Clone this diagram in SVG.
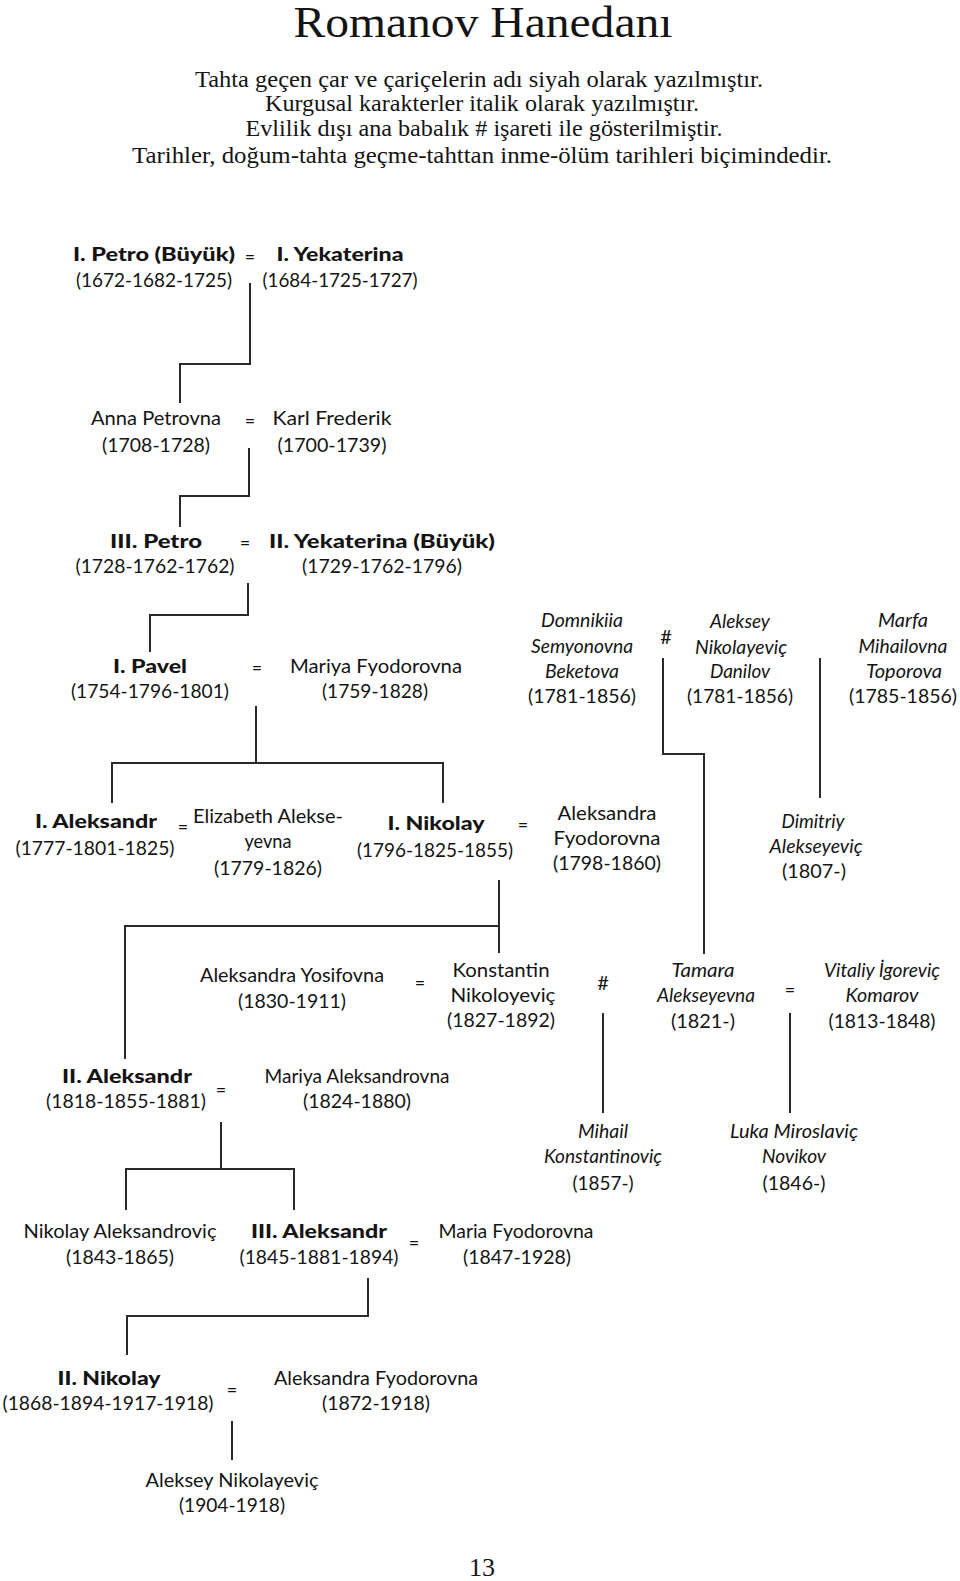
<svg xmlns="http://www.w3.org/2000/svg" width="960" height="1581" viewBox="0 0 960 1581">
<style>
text{font-family:Lato,"Open Sans","DejaVu Sans",sans-serif;font-size:19px;fill:#141414;text-anchor:middle}
.b{font-weight:900}
.i{font-style:italic}
.t{font-family:"Liberation Serif","DejaVu Serif",serif;font-size:45px}
.s{font-family:"Liberation Serif","DejaVu Serif",serif;font-size:23px}
.pg{font-family:"Liberation Serif","DejaVu Serif",serif;font-size:26px}
.eq{font-size:18px}
.h{font-size:20px}
.c path{fill:none;stroke:#2a2a2a;stroke-width:2}
</style>
<rect width="960" height="1581" fill="#fff"/>
<g id="title">
<text class="t" x="483" y="37" textLength="379" lengthAdjust="spacingAndGlyphs">Romanov Hanedanı</text>
<text class="s" x="479" y="87" textLength="568" lengthAdjust="spacingAndGlyphs">Tahta geçen çar ve çariçelerin adı siyah olarak yazılmıştır.</text>
<text class="s" x="482" y="111" textLength="434" lengthAdjust="spacingAndGlyphs">Kurgusal karakterler italik olarak yazılmıştır.</text>
<text class="s" x="484" y="136" textLength="477" lengthAdjust="spacingAndGlyphs">Evlilik dışı ana babalık # işareti ile gösterilmiştir.</text>
<text class="s" x="482" y="163" textLength="700" lengthAdjust="spacingAndGlyphs">Tarihler, doğum-tahta geçme-tahttan inme-ölüm tarihleri biçimindedir.</text>
</g>
<g class="c" id="connectors">
<path d="M250 283V364H180V403"/>
<path d="M249 448V496H180V527"/>
<path d="M248 583V615H150V652"/>
<path d="M256 706V763M112 803V763H443V803"/>
<path d="M663 658V754H704V954"/>
<path d="M820 658V798"/>
<path d="M499 880V953M125 1059V926H499"/>
<path d="M603 1013V1113"/>
<path d="M790 1013V1113"/>
<path d="M221 1122V1169M126 1210V1169H294V1210"/>
<path d="M368 1278V1316H127V1355"/>
<path d="M232 1421V1460"/>
</g>
<g id="marks">
<text class="eq" x="250" y="263">=</text>
<text class="eq" x="250" y="427">=</text>
<text class="eq" x="245" y="549">=</text>
<text class="eq" x="257" y="674">=</text>
<text class="h" x="666" y="644">#</text>
<text class="eq" x="183" y="833">=</text>
<text class="eq" x="523" y="831">=</text>
<text class="eq" x="420" y="989">=</text>
<text class="h" x="603" y="990">#</text>
<text class="eq" x="790" y="996">=</text>
<text class="eq" x="221" y="1096">=</text>
<text class="eq" x="414" y="1249">=</text>
<text class="eq" x="232" y="1396">=</text>
</g>
<g id="petro1">
<text class="b" x="154" y="261" textLength="162" lengthAdjust="spacingAndGlyphs">I. Petro (Büyük)</text>
<text x="154" y="287" textLength="156" lengthAdjust="spacingAndGlyphs">(1672-1682-1725)</text>
</g>
<g id="yekaterina1">
<text class="b" x="340" y="261" textLength="127" lengthAdjust="spacingAndGlyphs">I. Yekaterina</text>
<text x="340" y="287" textLength="155" lengthAdjust="spacingAndGlyphs">(1684-1725-1727)</text>
</g>
<g id="anna">
<text x="156" y="425" textLength="130" lengthAdjust="spacingAndGlyphs">Anna Petrovna</text>
<text x="156" y="452" textLength="108" lengthAdjust="spacingAndGlyphs">(1708-1728)</text>
</g>
<g id="karl">
<text x="332" y="425" textLength="119" lengthAdjust="spacingAndGlyphs">Karl Frederik</text>
<text x="332" y="452" textLength="109" lengthAdjust="spacingAndGlyphs">(1700-1739)</text>
</g>
<g id="petro3">
<text class="b" x="156" y="548" textLength="92" lengthAdjust="spacingAndGlyphs">III. Petro</text>
<text x="155" y="573" textLength="159" lengthAdjust="spacingAndGlyphs">(1728-1762-1762)</text>
</g>
<g id="yekaterina2">
<text class="b" x="382" y="548" textLength="226" lengthAdjust="spacingAndGlyphs">II. Yekaterina (Büyük)</text>
<text x="382" y="573" textLength="160" lengthAdjust="spacingAndGlyphs">(1729-1762-1796)</text>
</g>
<g id="pavel">
<text class="b" x="150" y="673" textLength="74" lengthAdjust="spacingAndGlyphs">I. Pavel</text>
<text x="150" y="698" textLength="158" lengthAdjust="spacingAndGlyphs">(1754-1796-1801)</text>
</g>
<g id="mariya-f">
<text x="376" y="673" textLength="172" lengthAdjust="spacingAndGlyphs">Mariya Fyodorovna</text>
<text x="375" y="698" textLength="106" lengthAdjust="spacingAndGlyphs">(1759-1828)</text>
</g>
<g id="domnikiia">
<text class="i" x="582" y="627" textLength="82" lengthAdjust="spacingAndGlyphs">Domnikiia</text>
<text class="i" x="582" y="653" textLength="102" lengthAdjust="spacingAndGlyphs">Semyonovna</text>
<text class="i" x="582" y="678" textLength="74" lengthAdjust="spacingAndGlyphs">Beketova</text>
<text x="582" y="703" textLength="108" lengthAdjust="spacingAndGlyphs">(1781-1856)</text>
</g>
<g id="aleksey-danilov">
<text class="i" x="740" y="628" textLength="60" lengthAdjust="spacingAndGlyphs">Aleksey</text>
<text class="i" x="741" y="654" textLength="92" lengthAdjust="spacingAndGlyphs">Nikolayeviç</text>
<text class="i" x="740" y="678" textLength="60" lengthAdjust="spacingAndGlyphs">Danilov</text>
<text x="740" y="703" textLength="106" lengthAdjust="spacingAndGlyphs">(1781-1856)</text>
</g>
<g id="marfa">
<text class="i" x="903" y="627" textLength="50" lengthAdjust="spacingAndGlyphs">Marfa</text>
<text class="i" x="903" y="653" textLength="89" lengthAdjust="spacingAndGlyphs">Mihailovna</text>
<text class="i" x="904" y="678" textLength="76" lengthAdjust="spacingAndGlyphs">Toporova</text>
<text x="903" y="703" textLength="108" lengthAdjust="spacingAndGlyphs">(1785-1856)</text>
</g>
<g id="aleksandr1">
<text class="b" x="96" y="828" textLength="122" lengthAdjust="spacingAndGlyphs">I. Aleksandr</text>
<text x="95" y="855" textLength="159" lengthAdjust="spacingAndGlyphs">(1777-1801-1825)</text>
</g>
<g id="elizabeth">
<text x="268" y="823" textLength="150" lengthAdjust="spacingAndGlyphs">Elizabeth Alekse-</text>
<text x="268" y="848" textLength="47" lengthAdjust="spacingAndGlyphs">yevna</text>
<text x="268" y="875" textLength="108" lengthAdjust="spacingAndGlyphs">(1779-1826)</text>
</g>
<g id="nikolay1">
<text class="b" x="436" y="830" textLength="97" lengthAdjust="spacingAndGlyphs">I. Nikolay</text>
<text x="435" y="857" textLength="156" lengthAdjust="spacingAndGlyphs">(1796-1825-1855)</text>
</g>
<g id="aleksandra-f1">
<text x="607" y="820" textLength="99" lengthAdjust="spacingAndGlyphs">Aleksandra</text>
<text x="607" y="845" textLength="107" lengthAdjust="spacingAndGlyphs">Fyodorovna</text>
<text x="607" y="870" textLength="108" lengthAdjust="spacingAndGlyphs">(1798-1860)</text>
</g>
<g id="dimitriy">
<text class="i" x="813" y="828" textLength="63" lengthAdjust="spacingAndGlyphs">Dimitriy</text>
<text class="i" x="816" y="853" textLength="93" lengthAdjust="spacingAndGlyphs">Alekseyeviç</text>
<text x="814" y="878" textLength="64" lengthAdjust="spacingAndGlyphs">(1807-)</text>
</g>
<g id="aleksandra-y">
<text x="292" y="982" textLength="184" lengthAdjust="spacingAndGlyphs">Aleksandra Yosifovna</text>
<text x="292" y="1008" textLength="108" lengthAdjust="spacingAndGlyphs">(1830-1911)</text>
</g>
<g id="konstantin">
<text x="501" y="977" textLength="97" lengthAdjust="spacingAndGlyphs">Konstantin</text>
<text x="503" y="1002" textLength="105" lengthAdjust="spacingAndGlyphs">Nikoloyeviç</text>
<text x="501" y="1027" textLength="108" lengthAdjust="spacingAndGlyphs">(1827-1892)</text>
</g>
<g id="tamara">
<text class="i" x="703" y="977" textLength="63" lengthAdjust="spacingAndGlyphs">Tamara</text>
<text class="i" x="706" y="1002" textLength="98" lengthAdjust="spacingAndGlyphs">Alekseyevna</text>
<text x="703" y="1028" textLength="64" lengthAdjust="spacingAndGlyphs">(1821-)</text>
</g>
<g id="vitaliy">
<text class="i" x="882" y="977" textLength="116" lengthAdjust="spacingAndGlyphs">Vitaliy İgoreviç</text>
<text class="i" x="882" y="1002" textLength="73" lengthAdjust="spacingAndGlyphs">Komarov</text>
<text x="882" y="1028" textLength="107" lengthAdjust="spacingAndGlyphs">(1813-1848)</text>
</g>
<g id="aleksandr2">
<text class="b" x="127" y="1083" textLength="130" lengthAdjust="spacingAndGlyphs">II. Aleksandr</text>
<text x="126" y="1108" textLength="160" lengthAdjust="spacingAndGlyphs">(1818-1855-1881)</text>
</g>
<g id="mariya-a">
<text x="357" y="1083" textLength="185" lengthAdjust="spacingAndGlyphs">Mariya Aleksandrovna</text>
<text x="357" y="1108" textLength="108" lengthAdjust="spacingAndGlyphs">(1824-1880)</text>
</g>
<g id="mihail">
<text class="i" x="603" y="1138" textLength="50" lengthAdjust="spacingAndGlyphs">Mihail</text>
<text class="i" x="603" y="1163" textLength="118" lengthAdjust="spacingAndGlyphs">Konstantinoviç</text>
<text x="603" y="1190" textLength="61" lengthAdjust="spacingAndGlyphs">(1857-)</text>
</g>
<g id="luka">
<text class="i" x="794" y="1138" textLength="128" lengthAdjust="spacingAndGlyphs">Luka Miroslaviç</text>
<text class="i" x="794" y="1163" textLength="64" lengthAdjust="spacingAndGlyphs">Novikov</text>
<text x="794" y="1190" textLength="63" lengthAdjust="spacingAndGlyphs">(1846-)</text>
</g>
<g id="nikolay-a">
<text x="120" y="1238" textLength="193" lengthAdjust="spacingAndGlyphs">Nikolay Aleksandroviç</text>
<text x="120" y="1264" textLength="108" lengthAdjust="spacingAndGlyphs">(1843-1865)</text>
</g>
<g id="aleksandr3">
<text class="b" x="319" y="1238" textLength="136" lengthAdjust="spacingAndGlyphs">III. Aleksandr</text>
<text x="319" y="1264" textLength="159" lengthAdjust="spacingAndGlyphs">(1845-1881-1894)</text>
</g>
<g id="maria-f">
<text x="516" y="1238" textLength="155" lengthAdjust="spacingAndGlyphs">Maria Fyodorovna</text>
<text x="517" y="1264" textLength="108" lengthAdjust="spacingAndGlyphs">(1847-1928)</text>
</g>
<g id="nikolay2">
<text class="b" x="109" y="1385" textLength="103" lengthAdjust="spacingAndGlyphs">II. Nikolay</text>
<text x="108" y="1410" textLength="211" lengthAdjust="spacingAndGlyphs">(1868-1894-1917-1918)</text>
</g>
<g id="aleksandra-f2">
<text x="376" y="1385" textLength="204" lengthAdjust="spacingAndGlyphs">Aleksandra Fyodorovna</text>
<text x="376" y="1410" textLength="108" lengthAdjust="spacingAndGlyphs">(1872-1918)</text>
</g>
<g id="aleksey-n">
<text x="232" y="1487" textLength="173" lengthAdjust="spacingAndGlyphs">Aleksey Nikolayeviç</text>
<text x="232" y="1512" textLength="106" lengthAdjust="spacingAndGlyphs">(1904-1918)</text>
</g>
<g id="page">
<text class="pg" x="482" y="1576">13</text>
</g>
</svg>
